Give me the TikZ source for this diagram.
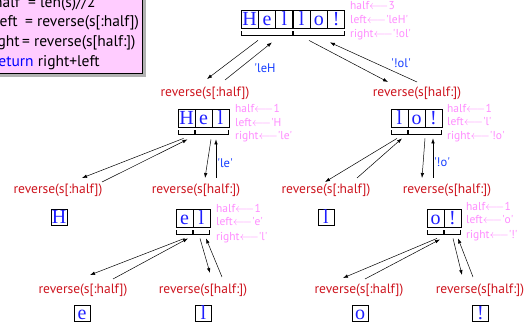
\documentclass[tikz,border=0pt]{standalone}
\usepackage{fontspec}
\setmainfont{PT Sans}
\newfontfamily\cellfont{Liberation Serif}
\usetikzlibrary{arrows.meta, positioning, calc}
\definecolor{callred}{RGB}{205,20,30}
\definecolor{notepink}{RGB}{255,140,255}
\definecolor{retblue}{RGB}{20,60,255}
\definecolor{codebg}{RGB}{255,204,255}
\definecolor{letterblue}{RGB}{30,30,255}
\newcommand{\sq}{\textquotesingle}
\newcommand{\assign}{\ensuremath{\longleftarrow}}
\tikzset{
  cell/.style = {draw=black, line width=0.8pt, minimum width=17pt, minimum height=18pt, inner sep=0pt, text height=14pt, text depth=0pt, text=letterblue, font=\cellfont\fontsize{20}{20}\selectfont},
  single/.style = {cell, minimum width=16pt, minimum height=16pt, text height=13pt},
  call/.style = {text=callred, inner sep=0pt, font=\fontsize{13.5}{14}\selectfont},
  note/.style = {text=notepink, anchor=west, inner sep=0pt, font=\fontsize{11.5}{12}\selectfont},
  ret/.style = {text=retblue, inner sep=0pt, font=\fontsize{12.5}{13}\selectfont},
  codeline/.style = {anchor=base west, inner sep=0pt, font=\fontsize{15.5}{16}\selectfont},
  brk/.style = {line width=0.7pt},
  arr/.style = {-{Latex[length=5pt,width=3.5pt]}, line width=0.5pt}
}

\begin{document}
\begin{tikzpicture}[x=1pt, y=-1pt]
\clip (0,0) rectangle (531,323);

% code box (cut by the page edge)
\fill[gray!60] (-17,-17) rectangle (146,77);
\draw[fill=codebg, line width=0.8pt] (-20,-20) rectangle (142,73);
\node[codeline] (code1) at (-6,8) {\makebox[34pt][l]{half}= len(s)//2};
\node[codeline] (code2) at (-5,27) {\makebox[30pt][l]{left}= reverse(s[:half])};
\node[codeline] (code3) at (-12,47) {\makebox[34pt][l]{right}= reverse(s[half:])};
\node[codeline] (code4) at (-7,67) {\textcolor{blue}{return} right+left};

% arrays
\foreach \c [count=\i] in {H,e,l,l,o,!}
  \node[cell] (t\i) at ({232.3+17.33*\i},19) {\c};
\foreach \c [count=\i] in {H,e,l}
  \node[cell] (a\i) at ({169.5+17*\i},118) {\c};
\foreach \c [count=\i] in {l,o,!}
  \node[cell] (b\i) at ({382.5+17*\i},118) {\c};
\foreach \c [count=\i] in {e,l}
  \node[cell] (d\i) at ({167.5+17*\i},218) {\c};
\foreach \c [count=\i] in {o,!}
  \node[cell] (e\i) at ({418.5+17*\i},218) {\c};

% brackets under the halves
\foreach \bl/\br in {t1/t3, t4/t6, a1/a1, a2/a3, b1/b1, b2/b3, d1/d1, d2/d2, e1/e1, e2/e2}
  \draw[brk] ([xshift=1pt,yshift=-3pt]\bl.south west) -- ++(0,4) -| ([xshift=-1pt,yshift=-3pt]\br.south east);

% calls
\node[call] (rL) at (205,93) {reverse(s[:half])};
\node[call] (rR) at (417,93) {reverse(s[half:])};
\node[call] (rLL) at (58,190) {reverse(s[:half])};
\node[call] (rLR) at (196,190) {reverse(s[half:])};
\node[call] (rRL) at (326,190) {reverse(s[:half])};
\node[call] (rRR) at (447,190) {reverse(s[half:])};
\node[call] (rLRL) at (83,290) {reverse(s[:half])};
\node[call] (rLRR) at (203,290) {reverse(s[half:])};
\node[call] (rRRL) at (359,290) {reverse(s[:half])};
\node[call] (rRRR) at (480,290) {reverse(s[half:])};

% base cases
\node[single] (sH) at (59,217) {H};
\node[single] (sl) at (326,217) {l};
\node[single] (se) at (82,313) {e};
\node[single] (sl2) at (203.5,313) {l};
\node[single] (so) at (360,313) {o};
\node[single] (sx) at (480.5,313) {!};

% locals
\node[note] (nt1) at (350,6) {half\assign3};
\node[note] (nt2) at (350,20) {left\assign\sq leH\sq};
\node[note] (nt3) at (350,35) {right\assign\sq!ol\sq};
\node[note] (na1) at (235,108) {half\assign1};
\node[note] (na2) at (235,123) {left\assign\sq H};
\node[note] (na3) at (235,137) {right\assign\sq le\sq};
\node[note] (nb1) at (447,108) {half\assign1};
\node[note] (nb2) at (447,122) {left\assign\sq l\sq};
\node[note] (nb3) at (447,137) {right\assign\sq!o\sq};
\node[note] (nd1) at (216,208) {half\assign1};
\node[note] (nd2) at (216,222) {left\assign\sq e\sq};
\node[note] (nd3) at (216,238) {right\assign\sq l\sq};
\node[note] (ne1) at (466,206) {half\assign1};
\node[note] (ne2) at (466,220) {left\assign\sq o\sq};
\node[note] (ne3) at (466,236) {right\assign\sq!\sq};

% returned values
\node[ret] (vL) at (265,68) {\sq leH};
\node[ret] (vR) at (401,63) {\sq!ol\sq};
\node[ret] (vLR) at (225,163) {\sq le\sq};
\node[ret] (vRR) at (442,162) {\sq!o\sq};

% ----- ARROWS -----
% top
\draw[arr] ($(t2.south)+(-9,12)$) -- ($(rL.center)+(2,-14)$);
\draw[arr] ($(rL.center)+(20,-13)$) -- ($(t2.south)+(5,14)$);
\draw[arr] ($(t5.south)+(-10,12)$) -- ($(rR.center)+(-29,-11)$);
\draw[arr] ($(rR.center)+(0,-11)$) -- ($(t5.south)+(11,14)$);
% Hel
\draw[arr] ($(a1.south)+(-3,11)$) -- ($(rLL.center)+(24,-12)$);
\draw[arr] ($(rLL.center)+(44,-8)$) -- ($(a1.south)+(1,12)$);
\draw[arr] ($(a3.south)+(-9.5,12)$) -- ($(rLR.center)+(9,-12)$);
\draw[arr] ($(rLR.center)+(20,-12)$) -- ($(a3.south)+(-4.5,12)$);
% lo!
\draw[arr] ($(b1.south)+(-2.5,11)$) -- ($(rRL.center)+(-1,-8)$);
\draw[arr] ($(rRL.center)+(31,-12)$) -- ($(b1.south)+(2.5,11)$);
\draw[arr] ($(b3.south)+(-8.5,11)$) -- ($(rRR.center)+(-25,-12)$);
\draw[arr] ($(rRR.center)+(-14,-12)$) -- ($(b3.south)+(-0.5,11)$);
% el
\draw[arr] ($(d1.south)+(0,11)$) -- ($(rLRL.center)+(7,-15)$);
\draw[arr] ($(rLRL.center)+(30,-11)$) -- ($(d1.south)+(3.5,11)$);
\draw[arr] ($(d2.south)+(-1.5,11)$) -- ($(rLRR.center)+(7,-17)$);
\draw[arr] ($(rLRR.center)+(19,-13)$) -- ($(d2.south)+(4.5,11)$);
% o!
\draw[arr] ($(e1.south)+(1.5,11)$) -- ($(rRRL.center)+(-16,-12)$);
\draw[arr] ($(rRRL.center)+(6,-11)$) -- ($(e1.south)+(4.5,12)$);
\draw[arr] ($(e2.south)+(0.5,11)$) -- ($(rRRR.center)+(-18,-15)$);
\draw[arr] ($(rRRR.center)+(-7,-13)$) -- ($(e2.south)+(5.5,11)$);

\end{tikzpicture}
\end{document}
